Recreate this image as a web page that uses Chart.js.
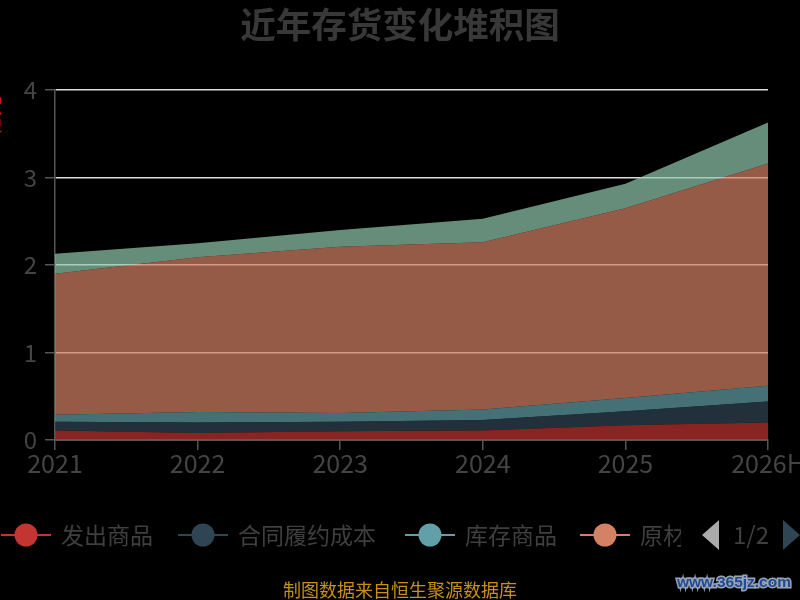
<!DOCTYPE html>
<html>
<head>
<meta charset="utf-8">
<script src="https://cdn.jsdelivr.net/npm/chart.js@4.4.1/dist/chart.umd.min.js"></script>
<style>
  html, body { margin: 0; padding: 0; background: #000; }
  canvas { display: block; }
</style>
</head>
<body>
<canvas id="chart" width="800" height="600"></canvas>
<script>
// 年份
const years = ['2021', '2022', '2023', '2024', '2025', '2026H'];

// 各存货项目（亿元），自下而上堆积
const faChuShangPin = [0.11, 0.08, 0.10, 0.11, 0.17, 0.20];
const heTongLvYue = [0.10, 0.12, 0.11, 0.12, 0.16, 0.24];
const kuCunShangPin = [0.08, 0.12, 0.10, 0.12, 0.15, 0.18];
const yuanCaiLiao = [1.61, 1.77, 1.90, 1.91, 2.17, 2.54];
const zaiChanPin = [0.23, 0.16, 0.19, 0.27, 0.28, 0.47];

const seriesNames = ['发出商品', '合同履约成本', '库存商品', '原材料', '在产品'];
const seriesData = [faChuShangPin, heTongLvYue, kuCunShangPin, yuanCaiLiao, zaiChanPin];
const colors = ['#c23531', '#2f4554', '#61a0a8', '#d48265', '#91c7ae'];

const yTicks = [0, 1, 2, 3, 4];

const FONT = '"Noto Sans CJK SC", "Noto Sans", sans-serif';

function alpha(hex, a) {
    const n = parseInt(hex.slice(1), 16);
    return `rgba(${n >> 16}, ${(n >> 8) & 255}, ${n & 255}, ${a})`;
}

// title, legend (first page), footer
const decorations = {
    id: 'decorations',
    afterDraw(chart) {
        const ctx = chart.ctx;
        ctx.save();

        // title
        ctx.fillStyle = '#383838';
        ctx.font = 'bold 35.5px ' + FONT;
        ctx.textAlign = 'center';
        ctx.textBaseline = 'middle';
        ctx.fillText('近年存货变化堆积图', 400, 25);

        // y axis name, mostly cut off at the left edge
        ctx.save();
        ctx.translate(-8, 116);
        ctx.rotate(-Math.PI / 2);
        ctx.fillStyle = '#e01010';
        ctx.font = '20px ' + FONT;
        ctx.fillText('亿元', 0, 0);
        ctx.restore();

        // legend
        const lineStarts = [1, 178, 405, 580];
        const ly = 535;
        ctx.save();
        ctx.beginPath();
        ctx.rect(0, 500, 681, 70);
        ctx.clip();
        lineStarts.forEach((x0, i) => {
            ctx.strokeStyle = colors[i];
            ctx.lineWidth = 2;
            ctx.beginPath();
            ctx.moveTo(x0, ly);
            ctx.lineTo(x0 + 50, ly);
            ctx.stroke();
            ctx.fillStyle = colors[i];
            ctx.beginPath();
            ctx.arc(x0 + 25, ly, 11.5, 0, Math.PI * 2);
            ctx.fill();
            ctx.fillStyle = '#3f3f3f';
            ctx.font = '23px ' + FONT;
            ctx.textAlign = 'left';
            ctx.textBaseline = 'middle';
            ctx.fillText(seriesNames[i], x0 + 60, ly);
        });
        ctx.restore();

        // page arrows
        ctx.fillStyle = '#aaaaaa';
        ctx.beginPath();
        ctx.moveTo(702, ly);
        ctx.lineTo(719, 520);
        ctx.lineTo(719, 550);
        ctx.closePath();
        ctx.fill();
        ctx.fillStyle = '#2f4554';
        ctx.beginPath();
        ctx.moveTo(800, ly);
        ctx.lineTo(783, 520);
        ctx.lineTo(783, 550);
        ctx.closePath();
        ctx.fill();
        ctx.fillStyle = '#3f3f3f';
        ctx.font = '24px ' + FONT;
        ctx.textAlign = 'center';
        ctx.fillText('1/2', 751, ly);

        // footer
        ctx.fillStyle = '#c8901a';
        ctx.font = '18px ' + FONT;
        ctx.fillText('制图数据来自恒生聚源数据库', 400, 590);

        // watermark
        ctx.font = 'bold 15.5px "Liberation Sans", sans-serif';
        ctx.textAlign = 'left';
        ctx.lineWidth = 3;
        ctx.strokeStyle = '#9aa4b4';
        ctx.strokeText('www.365jz.com', 677, 583);
        ctx.fillStyle = '#234a96';
        ctx.fillText('www.365jz.com', 677, 583);

        ctx.restore();
    }
};

new Chart(document.getElementById('chart'), {
    type: 'line',
    data: {
        labels: years,
        datasets: seriesData.map((d, i) => ({
            label: seriesNames[i],
            data: d,
            backgroundColor: alpha(colors[i], 0.7),
            borderColor: colors[i],
            borderWidth: 0,
            pointRadius: 0,
            tension: 0,
            fill: i === 0 ? 'origin' : '-1'
        }))
    },
    options: {
        responsive: false,
        animation: false,
        layout: {
            autoPadding: false,
            padding: { top: 90, right: 32, left: 0, bottom: 0 }
        },
        plugins: {
            legend: { display: false },
            title: { display: false },
            tooltip: { enabled: false }
        },
        scales: {
            x: {
                offset: false,
                grid: { drawOnChartArea: false, tickLength: 10, color: '#555', lineWidth: 1.5 },
                border: { color: '#555', width: 2 },
                ticks: { color: '#444', font: { family: FONT, size: 25 }, padding: -2, maxRotation: 0 },
                afterFit(scale) {
                    scale.height = 160;
                    scale.paddingLeft = 0;
                    scale.paddingRight = 0;
                }
            },
            y: {
                stacked: true,
                min: 0,
                max: 4,
                afterBuildTicks(scale) { scale.ticks = yTicks.map(v => ({ value: v })); },
                grid: {
                    tickLength: 10,
                    lineWidth: 1.5,
                    color: ctx => ctx.tick && ctx.tick.value === 0 ? 'rgba(0,0,0,0)' : '#dddddd',
                    tickColor: '#555'
                },
                border: { color: '#555', width: 1.5 },
                ticks: { color: '#444', font: { family: FONT, size: 24 }, padding: 8 },
                afterFit(scale) {
                    scale.width = 55;
                    scale.paddingTop = 0;
                    scale.paddingBottom = 0;
                }
            }
        }
    },
    plugins: [decorations]
});
</script>
</body>
</html>
